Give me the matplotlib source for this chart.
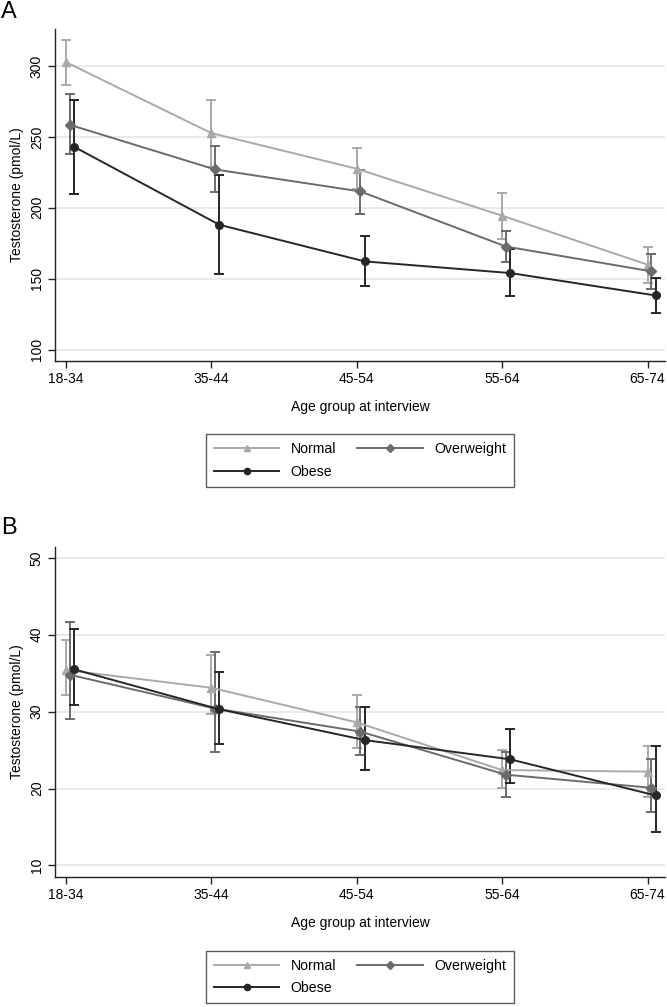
import numpy as np
import matplotlib.pyplot as plt
from matplotlib.lines import Line2D

plt.rcParams['font.family'] = ['Liberation Sans', 'DejaVu Sans']

age_groups = ['18-34', '35-44', '45-54', '55-64', '65-74']
series = ['Normal', 'Overweight', 'Obese']

# Panel A: total testosterone (pmol/L)
a_mean = {
    'Normal':     [302.6, 252.6, 227.5, 194.4, 159.9],
    'Overweight': [258.5, 227.0, 211.5, 172.7, 155.2],
    'Obese':      [243.0, 188.0, 162.2, 154.0, 138.2],
}
a_low = {
    'Normal':     [286.8, 229.0, 213.0, 178.2, 147.0],
    'Overweight': [238.0, 211.0, 195.8, 162.0, 142.7],
    'Obese':      [209.4, 153.3, 144.6, 137.5, 125.8],
}
a_high = {
    'Normal':     [318.3, 276.3, 241.8, 210.6, 172.5],
    'Overweight': [280.0, 243.2, 226.8, 183.6, 167.6],
    'Obese':      [276.0, 223.0, 180.3, 171.1, 150.7],
}

# Panel B: free testosterone (pmol/L)
b_mean = {
    'Normal':     [35.4, 33.1, 28.6, 22.4, 22.2],
    'Overweight': [34.8, 30.4, 27.4, 21.8, 20.1],
    'Obese':      [35.5, 30.3, 26.3, 23.8, 19.1],
}
b_low = {
    'Normal':     [32.1, 29.7, 25.3, 20.1, 18.9],
    'Overweight': [29.1, 24.8, 24.3, 18.9, 17.0],
    'Obese':      [30.9, 25.8, 22.4, 20.7, 14.3],
}
b_high = {
    'Normal':     [39.25, 37.4, 32.1, 25.0, 25.5],
    'Overweight': [41.7, 37.7, 30.6, 24.8, 23.8],
    'Obese':      [40.8, 35.1, 30.6, 27.7, 25.5],
}

colors = {'Normal': '#a9a9a9', 'Overweight': '#6b6b6b', 'Obese': '#262626'}
markers = {'Normal': '^', 'Overweight': 'D', 'Obese': 'o'}
msizes = {'Normal': 5.5, 'Overweight': 5, 'Obese': 5.5}
offsets = {'Normal': 0.0, 'Overweight': 0.025, 'Obese': 0.055}

W, H = 667, 1007
fig = plt.figure(figsize=(W / 100, H / 100), dpi=100)


def panel(rect, mean, low, high, yticks, ylim, letter, letter_y):
    l, t, r, b = rect
    ax = fig.add_axes([l / W, 1 - b / H, (r - l) / W, (b - t) / H])
    x = np.arange(len(age_groups))
    for s in series:
        m = np.array(mean[s])
        err = [m - np.array(low[s]), np.array(high[s]) - m]
        ax.errorbar(x + offsets[s], m, yerr=err, color=colors[s], marker=markers[s],
                    markersize=msizes[s], linewidth=1.4, elinewidth=1.4, capsize=3.5,
                    capthick=1.4)
    ax.set_xlim(-0.076, 4.12)
    ax.set_ylim(*ylim)
    ax.set_xticks(x)
    ax.set_xticklabels(age_groups, fontsize=10)
    ax.set_yticks(yticks)
    ax.set_yticklabels([str(v) for v in yticks], rotation=90, va='center', fontsize=10)
    ax.yaxis.grid(True, color='#e6e6e6', linewidth=1.2)
    ax.set_axisbelow(True)
    for sp in ['top', 'right']:
        ax.spines[sp].set_visible(False)
    for sp in ['left', 'bottom']:
        ax.spines[sp].set_linewidth(1.0)
        ax.spines[sp].set_color('#222222')
    ax.tick_params(length=5, width=1.0, color='#222222', pad=3)
    ax.set_ylabel('Testosterone (pmol/L)', fontsize=10, labelpad=4)
    ax.set_xlabel('Age group at interview', fontsize=10, labelpad=10)
    fig.text(1 / W, 1 - letter_y / H, letter, fontsize=17, va='center', ha='left')
    return ax


ax_a = panel((55, 29, 665, 361), a_mean, a_low, a_high, [100, 150, 200, 250, 300],
             (92, 326), 'A', 12)
ax_b = panel((55, 547, 665, 877), b_mean, b_low, b_high, [10, 20, 30, 40, 50],
             (8.5, 51.4), 'B', 528)


def add_legend(cy):
    handles = {s: Line2D([], [], color=colors[s], marker=markers[s], markersize=msizes[s] - 1,
                         linewidth=1.4) for s in series}
    # column-first fill: Normal / Obese in column 1, Overweight in column 2
    order = ['Normal', 'Obese', 'Overweight']
    leg = fig.legend([handles[s] for s in order], order, ncol=2, loc='center',
                     bbox_to_anchor=(360 / W, 1 - cy / H), fontsize=10.2,
                     handlelength=4.6, columnspacing=1.5, labelspacing=0.6,
                     fancybox=False, frameon=True, borderpad=0.55, handletextpad=0.8)
    leg.get_frame().set_edgecolor('#333333')
    leg.get_frame().set_linewidth(1.0)
    return leg


add_legend(460.5)
add_legend(977)

fig.savefig('out.png', dpi=100)
